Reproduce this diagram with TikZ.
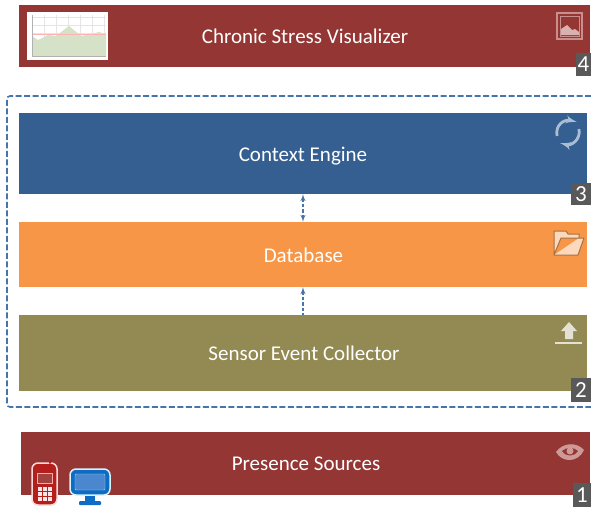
\documentclass[tikz,border=0pt]{standalone}
\usepackage{fontspec}
\setmainfont{Carlito}
\usepackage{tikz}
\usetikzlibrary{arrows}
\definecolor{redbox}{HTML}{943634}
\definecolor{bluebox}{HTML}{365F91}
\definecolor{orangebox}{HTML}{F79646}
\definecolor{olivebox}{HTML}{938953}
\definecolor{badgegray}{HTML}{595959}
\definecolor{dashblue}{HTML}{4674AC}
\definecolor{framerose}{HTML}{C98F8D}
\definecolor{syncblue}{HTML}{A9BDD3}
\definecolor{folderfill}{HTML}{FCD9BC}
\definecolor{folderline}{HTML}{A9703F}
\definecolor{chartfill}{HTML}{D5E2C8}
\definecolor{phonered}{HTML}{B3201C}
\definecolor{screenblue}{HTML}{0F6CC4}
\tikzset{
  layer/.style={shape=rectangle, inner sep=0pt, text=white, font=\fontsize{21}{24}\selectfont},
  badge/.style={shape=rectangle, inner sep=0pt, fill=badgegray, text=white, font=\fontsize{23}{26}\selectfont},
  link/.style={<->, >=latex', line width=1.3pt, dash pattern=on 3.5pt off 2pt, dashblue}
}
\begin{document}
\begin{tikzpicture}[x=1pt, y=-1pt]
\useasboundingbox (0,0) rectangle (591,507);

\node[layer, fill=redbox, minimum width=571pt, minimum height=62pt] (V) at (304.5,36) {};
\node[layer, fill=bluebox, minimum width=568pt, minimum height=81pt] (C) at (303,153.5) {};
\node[layer, fill=orangebox, minimum width=568pt, minimum height=65pt] (D) at (303,254.5) {};
\node[layer, fill=olivebox, minimum width=568pt, minimum height=76pt] (S) at (303,353) {};
\node[layer, fill=redbox, minimum width=569pt, minimum height=63pt] (P) at (305.5,463.5) {};

\node[layer] (Vt) at (305,36) {Chronic Stress Visualizer};
\node[layer] (Ct) at (303,156) {Context Engine};
\node[layer] (Dt) at (303.5,255) {Database};
\node[layer] (St) at (304,353) {Sensor Event Collector};
\node[layer] (Pt) at (306,464) {Presence Sources};

\node[badge, minimum width=15pt, minimum height=23pt] (N4) at (583.5,64.5) {4};
\node[badge, minimum width=20pt, minimum height=22pt] (N3) at (581,194) {3};
\node[badge, minimum width=20pt, minimum height=24pt] (N2) at (581,390) {2};
\node[badge, minimum width=18pt, minimum height=24pt] (N1) at (582,495) {1};

\draw[line width=1.6pt, dash pattern=on 6pt off 2.5pt, dashblue, rounded corners=3pt] (591,96) -- (7,96) -- (7,407) -- (591,407);

\draw[link] (C.south) to (D.north);
\draw[link, <-] (D.south) to (S.north);

% chart
\fill[white] (27,12) rectangle (108,60);
\foreach \x in {32,44,56,68,80,92,104}
  \draw[gray!20, very thin] (\x,15) -- (\x,56);
\foreach \y in {17,25,33,41,49}
  \draw[gray!20, very thin] (32,\y) -- (106,\y);
\fill[chartfill] (32,36) -- (38,40) -- (48,35) -- (56,36) -- (69,26) -- (81,36) -- (92,34) -- (99,32) -- (106,34) -- (106,56) -- (32,56) -- cycle;
\draw[red!30, line width=.8pt] (32,34) -- (106,34);
\draw[gray!60, very thin] (32,15) -- (32,56) -- (106,56);

% picture
\draw[line width=1.4pt, framerose] (557,13) rectangle (582,39);
\draw[line width=.6pt, framerose] (560,16) rectangle (579,36);
\fill[framerose!70!white] (561,35) -- (561,29) -- (567,25) -- (572,30) -- (575,29) -- (579,32) -- (579,35) -- cycle;

% sync
\draw[line width=2.8pt, syncblue, ->, >=latex'] (557,136) .. controls (555,124) and (565,119) .. (577,122);
\draw[line width=2.8pt, syncblue, ->, >=latex'] (579,129) .. controls (581,140) and (571,146) .. (560,143);

% folder
\draw[fill=folderfill, draw=folderline, line width=1pt, line join=round] (554,255) -- (554,231) -- (566,231) -- (568,234) -- (579,234) -- (579,238) -- (561,238) -- (554,255) -- (578,255) -- (584,238) -- (579,238);

% upload
\fill[olivebox!25!white] (569,322) -- (577,331) -- (573,331) -- (573,339) -- (565,339) -- (565,331) -- (561,331) -- cycle;
\draw[line width=2pt, olivebox!25!white] (555,343) -- (582,343);

% eye
\fill[framerose!90!white] (556,452) .. controls (563,442) and (577,442) .. (584,450) .. controls (578,463) and (562,463) .. (556,452) -- cycle;
\fill[redbox] (562,451) .. controls (566,447) and (574,447) .. (578,451) .. controls (575,457) and (565,457) .. (562,451) -- cycle;
\fill[framerose!90!white] (570,451) circle (3.5pt);

% phone
\draw[white!85!red, line width=1.5pt, fill=phonered, rounded corners=6pt] (32,463) rectangle (57,505);
\draw[phonered, line width=2pt, line cap=round] (50,463) -- (51,460);
\fill[phonered!65!gray, draw=red!35!white] (37,473) rectangle (52,483);
\foreach \i in {0,1,2}
  \foreach \j in {0,1,2}
    \fill[white!90!red] (38+\i*5,487+\j*5) rectangle +(3.5,3.5);

% monitor
\fill[screenblue] (85,495) rectangle (95,502);
\fill[screenblue, rounded corners=1pt] (79,501) rectangle (101,505);
\draw[white!85!cyan, line width=1.5pt, fill=screenblue, rounded corners=6pt] (70,469) rectangle (110,495);
\draw[white!60!cyan, fill=cyan!50!blue!75!white, rounded corners=1pt] (75,474) rectangle (105,490);

\end{tikzpicture}
\end{document}
